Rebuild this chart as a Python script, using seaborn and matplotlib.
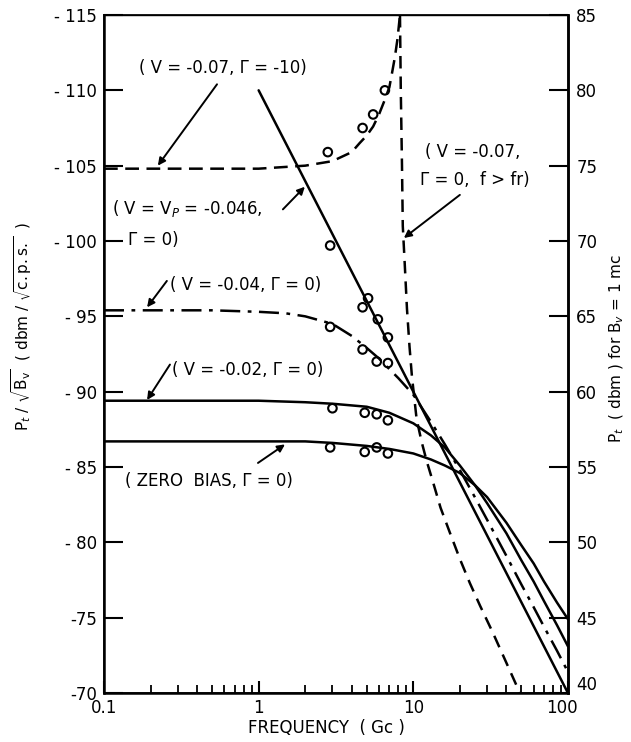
import numpy as np
import pandas as pd
import matplotlib
matplotlib.use("Agg")
import matplotlib.pyplot as plt
import matplotlib.transforms as mtransforms
import seaborn as sns

# ---- data (left-axis units: dbm / sqrt(c.p.s.)) ----
# V = -0.07, Gamma = -10 (dashed, rising to resonance)
freq_a = [0.1, 0.5, 1, 2, 3, 4, 4.5, 5, 5.5, 6, 6.5, 7, 7.3, 7.6, 7.9, 8.2]
pt_a = [-104.8, -104.8, -104.8, -105.0, -105.3, -105.9, -106.5, -107.0, -107.6,
        -108.4, -109.3, -110.2, -111.2, -112.2, -113.4, -115.0]

# V = Vp = -0.046, Gamma = 0 (straight solid)
freq_b = [1, 10, 100]
pt_b = [-110.0, -90.0, -70.0]

# V = -0.04, Gamma = 0 (dash-dot)
freq_c = [0.1, 0.5, 1, 1.5, 2, 3, 4, 5, 6, 7, 8, 10, 13, 16, 20, 25, 30, 40,
          50, 60, 70, 85, 100]
pt_c = [-95.4, -95.4, -95.3, -95.2, -95.0, -94.5, -93.7, -92.9, -92.2, -91.5,
        -90.9, -89.8, -88.0, -86.5, -84.8, -83.0, -81.5, -79.1, -77.2, -75.7,
        -74.4, -72.8, -71.4]

# V = -0.02, Gamma = 0 (solid)
freq_d = [0.1, 1, 2, 3, 5, 7, 10, 13, 16, 20, 25, 30, 40, 50, 60, 70, 85, 100]
pt_d = [-89.4, -89.4, -89.3, -89.2, -89.0, -88.6, -87.9, -87.1, -86.3, -85.1,
        -83.8, -82.6, -80.6, -78.8, -77.4, -76.1, -74.5, -73.1]

# zero bias, Gamma = 0 (solid)
freq_z = [0.1, 1, 2, 3, 5, 7, 10, 13, 16, 20, 25, 30, 40, 50, 60, 70, 85, 100]
pt_z = [-86.7, -86.7, -86.7, -86.6, -86.4, -86.2, -85.9, -85.5, -85.1, -84.6,
        -83.8, -83.0, -81.3, -79.8, -78.6, -77.4, -76.0, -74.9]

# V = -0.07, Gamma = 0, f > fr (dashed, falling)
freq_e = [8.2, 8.3, 8.45, 8.55, 8.8, 9.1, 9.45, 9.8, 10.5, 11.3, 12.2, 13.5,
          15.0, 17.3, 20.0, 23.2, 27.0, 32.7, 40.0, 48.9]
pt_e = [-115.0, -110.0, -105.0, -101.0, -98.5, -95.5, -93.0, -91.0, -88.2,
        -86.7, -85.4, -83.9, -82.3, -80.6, -78.9, -77.3, -75.8, -74.0, -72.0,
        -70.0]

# measured points
meas_freq_a = [2.8, 4.7, 5.5, 6.55]
meas_pt_a = [-105.9, -107.5, -108.4, -110.0]
meas_freq_b = [2.9, 4.7, 5.1, 5.9, 6.85]
meas_pt_b = [-99.7, -95.6, -96.2, -94.8, -93.6]
meas_freq_c = [2.9, 4.7, 5.8, 6.85]
meas_pt_c = [-94.3, -92.8, -92.0, -91.9]
meas_freq_d = [3.0, 4.85, 5.8, 6.85]
meas_pt_d = [-88.9, -88.6, -88.5, -88.1]
meas_freq_z = [2.9, 4.85, 5.8, 6.85]
meas_pt_z = [-86.3, -86.0, -86.3, -85.9]

left_ticks = [-115, -110, -105, -100, -95, -90, -85, -80, -75, -70]
left_labels = ["- 115", "- 110", "- 105", "- 100", "- 95", "- 90", "- 85",
               "- 80", "-75", "-70"]
right_ticks = [85, 80, 75, 70, 65, 60, 55, 50, 45, 40]
x_ticks = [0.1, 1, 10, 100]
x_labels = ["0.1", "1", "10", "100"]

# ---- figure ----
sns.set_theme(style="ticks")
plt.rcParams["font.family"] = ["DejaVu Sans"]
plt.rcParams["mathtext.fontset"] = "dejavusans"
for key in ["text.color", "axes.labelcolor", "xtick.color", "ytick.color",
            "axes.edgecolor"]:
    plt.rcParams[key] = "black"

fig = plt.figure(figsize=(6.31, 7.42), dpi=100)
ax = fig.add_axes([0.1648, 0.066, 0.7353, 0.9138])

LW = 1.8
curves = [
    (freq_a, pt_a, (0, (5.5, 3.0))),
    (freq_b, pt_b, "-"),
    (freq_c, pt_c, (0, (8, 3, 1.5, 3))),
    (freq_d, pt_d, "-"),
    (freq_z, pt_z, "-"),
    (freq_e, pt_e, (0, (5.0, 3.2))),
]
for fx, py, ls in curves:
    df = pd.DataFrame({"f": fx, "p": py})
    sns.lineplot(data=df, x="f", y="p", ax=ax, color="black", lw=LW,
                 sort=False, estimator=None)
    ax.get_lines()[-1].set_linestyle(ls)

meas = [(meas_freq_a, meas_pt_a), (meas_freq_b, meas_pt_b),
        (meas_freq_c, meas_pt_c), (meas_freq_d, meas_pt_d),
        (meas_freq_z, meas_pt_z)]
for fx, py in meas:
    sns.scatterplot(x=fx, y=py, ax=ax, marker="o", s=38, zorder=5)
    pts = ax.collections[-1]
    pts.set_facecolor("none")
    pts.set_edgecolor("black")
    pts.set_linewidth(1.5)

ax.set_xscale("log")
ax.set_xlim(0.1, 100)
ax.set_ylim(-70, -115)
ax.set_xlabel("")
ax.set_ylabel("")

ax.set_xticks(x_ticks)
ax.set_xticklabels(x_labels, fontsize=12)
ax.xaxis.set_minor_locator(matplotlib.ticker.LogLocator(base=10, subs=np.arange(2, 10)))
ax.xaxis.set_minor_formatter(matplotlib.ticker.NullFormatter())
ax.tick_params(axis="x", which="major", direction="in", length=9, width=1.5,
               pad=4, colors="black")
ax.tick_params(axis="x", which="minor", direction="in", length=6, width=1.3,
               colors="black")
ax.set_yticks(left_ticks)
ax.set_yticklabels(left_labels, fontsize=12)
ax.tick_params(axis="y", direction="in", length=14, width=1.5, pad=5,
               colors="black")

for side in ["left", "bottom", "right"]:
    ax.spines[side].set_linewidth(1.8)
    ax.spines[side].set_color("black")
ax.spines["top"].set_linewidth(1.0)
ax.spines["top"].set_color("black")
ax.spines["top"].set_visible(True)

ax2 = ax.twinx()
ax2.set_ylim(40, 85)
ax2.set_yticks(right_ticks)
ax2.set_yticklabels([str(t) for t in right_ticks], fontsize=12)
ax2.tick_params(axis="y", direction="in", length=14, width=1.5, pad=6,
                colors="black")
ax2.spines["right"].set_linewidth(1.8)
ax2.spines["right"].set_color("black")

# lift the bottom right-hand label clear of the "100" below it
lift = mtransforms.ScaledTranslation(0, 7 / 72, fig.dpi_scale_trans)
bottom_label = ax2.get_yticklabels()[-1]
bottom_label.set_transform(bottom_label.get_transform() + lift)
# nudge the "100" frequency label slightly left
shift = mtransforms.ScaledTranslation(-4 / 72, 0, fig.dpi_scale_trans)
last_x = ax.get_xticklabels()[-1]
last_x.set_transform(last_x.get_transform() + shift)

# axis titles
fig.text(0.035, 0.56,
         r"P$_t$ / $\sqrt{\mathrm{B_v}}$  ( dbm / $\sqrt{\mathrm{c.p.s.}}$  )",
         rotation=90, ha="center", va="center", fontsize=11)
fig.text(0.978, 0.53, r"P$_t$  ( dbm ) for B$_v$ = 1 mc",
         rotation=90, ha="center", va="center", fontsize=11)
fig.text(0.518, 0.019, "FREQUENCY  ( Gc )", ha="center", va="center",
         fontsize=12)

# curve labels
T = ax.transAxes
lab = dict(fontsize=12, transform=T, va="center", color="black")
ax.text(0.2565, 0.9218, "( V = -0.07, Γ = -10)", ha="center", **lab)
ax.text(0.0172, 0.7153, "( V = V$_P$ = -0.046,", ha="left", **lab)
ax.text(0.0517, 0.6681, "Γ = 0)", ha="left", **lab)
ax.text(0.1422, 0.6018, "( V = -0.04, Γ = 0)", ha="left", **lab)
ax.text(0.1466, 0.4764, "( V = -0.02, Γ = 0)", ha="left", **lab)
ax.text(0.0453, 0.3127, "( ZERO  BIAS, Γ = 0)", ha="left", **lab)
ax.text(0.6918, 0.7979, "( V = -0.07,", ha="left", **lab)
ax.text(0.6810, 0.7566, "Γ = 0,  f > fr)", ha="left", **lab)

arrow = dict(arrowstyle="-|>", color="black", lw=1.4, mutation_scale=11,
             shrinkA=0, shrinkB=0)
pointers = [
    ((0.538, -110.4), (0.223, -105.0)),
    ((1.435, -102.1), (1.99, -103.6)),
    ((0.255, -97.35), (0.19, -95.6)),
    ((0.267, -91.8), (0.19, -89.45)),
    ((0.99, -85.27), (1.48, -86.5)),
    ((20.0, -103.06), (8.69, -100.2)),
]
for tail, head in pointers:
    ax.annotate("", xy=head, xytext=tail, arrowprops=arrow)

fig.savefig("out.png", dpi=100)
